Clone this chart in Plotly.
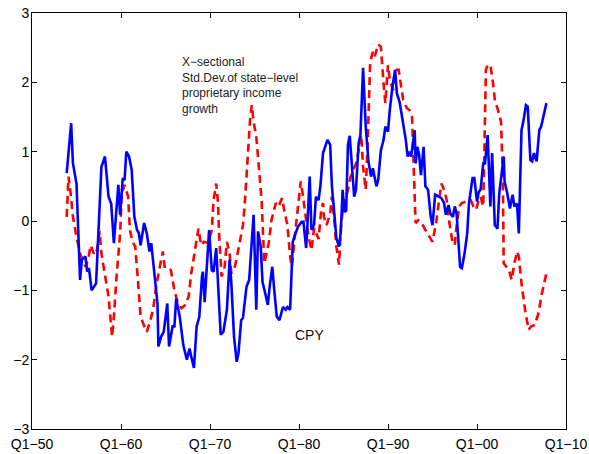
import plotly.graph_objects as go

# CPY (blue solid)
cpy_year = [1953.9, 1954.4, 1954.6, 1955.0, 1955.4, 1955.6, 1956.0, 1956.2, 1956.4, 1956.7,
            1957.2, 1957.4, 1957.8, 1958.2, 1958.6, 1958.9, 1959.2, 1959.7, 1959.9, 1960.2,
            1960.4, 1960.6, 1960.9, 1961.2, 1961.5, 1961.8, 1962.0, 1962.2, 1962.6, 1962.9,
            1963.2, 1963.4, 1964.1, 1964.2, 1964.5, 1964.8, 1965.2, 1965.4, 1965.8, 1966.0,
            1966.2, 1966.6, 1967.0, 1967.4, 1967.7, 1967.9, 1968.2, 1968.5, 1968.8, 1969.1,
            1969.2, 1969.4, 1969.9, 1970.2, 1970.4, 1970.7, 1971.2, 1971.5, 1971.8, 1971.9,
            1972.2, 1972.4, 1972.7, 1973.0, 1973.2, 1973.5, 1973.7, 1974.1, 1974.4, 1974.7,
            1974.9, 1975.2, 1975.4, 1975.7, 1975.9, 1976.2, 1976.5, 1976.7, 1977.0, 1977.2,
            1977.5, 1977.8, 1978.1, 1978.2, 1978.5, 1978.7, 1979.0, 1979.3, 1979.6, 1979.9,
            1980.3, 1980.5, 1980.8, 1980.9, 1981.2, 1981.4, 1981.7, 1981.9, 1982.2, 1982.4,
            1982.7, 1982.9, 1983.2, 1983.5, 1983.7, 1984.0, 1984.2, 1984.5, 1984.7, 1984.9,
            1985.1, 1985.3, 1985.5, 1985.7, 1986.0, 1986.2, 1986.4, 1986.7, 1986.9, 1987.2,
            1987.5, 1987.8, 1988.1, 1988.3, 1988.7, 1988.9, 1989.2, 1989.5, 1989.7, 1990.0,
            1990.2, 1990.5, 1990.8, 1991.0, 1991.3, 1991.7, 1992.0, 1992.2, 1992.4, 1992.6,
            1993.0, 1993.1, 1993.3, 1993.5, 1993.7, 1994.0, 1994.2, 1994.5, 1994.8, 1995.0,
            1995.3, 1995.7, 1996.0, 1996.3, 1996.5, 1996.8, 1997.0, 1997.3, 1997.5, 1997.7,
            1997.9, 1998.1, 1998.3, 1998.6, 1998.9, 1999.1, 1999.5, 1999.7, 2000.0, 2000.2,
            2000.4, 2000.7, 2000.9, 2001.2, 2001.5, 2001.7, 2002.0, 2002.3, 2002.5, 2002.8,
            2003.0, 2003.1, 2003.4, 2003.7, 2004.0, 2004.2, 2004.5, 2004.7, 2005.0, 2005.2,
            2005.5, 2005.7, 2006.0, 2006.2, 2006.4, 2006.7, 2007.0, 2007.2, 2007.5, 2007.8]
cpy_val = [0.69, 1.41, 0.83, 0.54, -0.85, -0.56, -0.51, -0.73, -0.68, -1.0,
           -0.9, -0.37, 0.78, 0.93, 0.35, 0.25, -0.32, 0.52, 0.09, 0.62,
           0.59, 1.0, 0.93, 0.74, 0.06, -0.13, -0.17, -0.35, -0.03, -0.18,
           -0.44, -0.32, -1.19, -1.81, -1.67, -1.6, -1.19, -1.81, -1.52, -1.52,
           -1.12, -1.38, -1.79, -2.0, -1.84, -1.96, -2.12, -1.52, -1.38, -0.8,
           -0.73, -1.17, -0.13, -0.71, -0.73, -0.39, -1.64, -1.6, -1.31, -1.28,
           -0.56, -0.9, -1.67, -2.03, -1.91, -1.43, -1.4, -0.95, -0.85, -0.23,
           0.09, -1.28, -0.15, -0.37, -0.88, -1.04, -1.21, -0.95, -0.66, -0.97,
           -1.38, -1.43, -1.28, -1.24, -1.28, -1.24, -1.28, -0.3, -0.18, -0.08,
           -0.01, -0.01, -0.39, -0.18, 0.64, -0.13, -0.05, 0.35, 0.3, 0.5,
           0.98, 1.05, 1.17, 1.1, 0.5, 0.06, -0.25, -0.37, -0.15, 0.45,
           0.13, 0.15, 1.1, 1.23, 0.69, 0.35, 0.45, 1.12, 1.24, 2.21,
           1.36, 0.86, 0.64, 0.76, 0.5, 0.59, 1.02, 1.17, 1.36, 1.29,
           1.6, 1.94, 2.18, 1.84, 1.72, 1.41, 1.17, 0.93, 1.0, 0.93,
           1.31, 0.83, 1.07, 0.95, 0.66, 1.07, 0.5, 0.45, 0.06, -0.06,
           0.38, 0.35, 0.33, 0.26, 0.09, 0.23, 0.11, 0.06, 0.21, 0.12,
           -0.27, -0.66, -0.68, -0.47, -0.18, 0.26, 0.62, 0.62, 0.28, 0.42,
           0.45, 0.83, 0.83, 1.24, 0.21, 0.98, -0.06, -0.11, 0.4, 0.69,
           0.93, 0.57, 0.4, 0.18, 0.38, 0.21, 0.25, -0.18, 1.31, 1.43,
           1.67, 1.65, 0.88, 0.86, 0.98, 0.86, 1.31, 1.36, 1.53, 1.7]

# X-sectional std. dev. (red dashed)
xsd_year = [1953.9, 1954.1, 1954.3, 1954.6, 1955.0, 1955.4, 1956.0, 1956.3, 1956.6, 1957.0,
            1957.3, 1957.6, 1957.8, 1958.2, 1958.6, 1959.0, 1959.2, 1959.5, 1959.9, 1960.1,
            1960.4, 1960.8, 1961.0, 1961.3, 1961.6, 1961.9, 1962.2, 1962.5, 1962.9, 1963.3,
            1963.6, 1964.0, 1964.4, 1964.7, 1964.9, 1965.3, 1965.6, 1966.0, 1966.4, 1966.8,
            1967.2, 1967.6, 1967.9, 1968.3, 1968.7, 1969.0, 1969.3, 1969.8, 1970.2, 1970.4,
            1970.7, 1970.9, 1971.0, 1971.3, 1971.6, 1971.9, 1972.2, 1972.4, 1972.7, 1973.0,
            1973.4, 1973.7, 1973.9, 1974.2, 1974.5, 1974.7, 1974.9, 1975.2, 1975.5, 1975.8,
            1976.1, 1976.3, 1976.6, 1976.9, 1977.2, 1977.4, 1977.7, 1978.1, 1978.3, 1978.7,
            1979.0, 1979.2, 1979.6, 1979.9, 1980.2, 1980.4, 1980.7, 1980.9, 1981.2, 1981.4,
            1981.7, 1982.2, 1982.5, 1982.7, 1982.8, 1983.1, 1983.5, 1983.7, 1984.0, 1984.2,
            1984.5, 1984.7, 1985.0, 1985.2, 1985.5, 1985.8, 1986.1, 1986.4, 1986.7, 1987.0,
            1987.2, 1987.5, 1987.7, 1987.9, 1988.0, 1988.3, 1988.5, 1988.9, 1989.2, 1989.5,
            1989.7, 1990.0, 1990.2, 1990.6, 1991.0, 1991.2, 1991.5, 1991.7, 1992.1, 1992.4,
            1992.7, 1992.8, 1993.0, 1993.1, 1993.4, 1993.8, 1994.2, 1994.5, 1995.0, 1995.4,
            1995.8, 1996.0, 1996.3, 1996.6, 1996.9, 1997.2, 1997.5, 1997.7, 1998.0, 1998.3,
            1998.7, 1999.0, 1999.3, 1999.6, 1999.9, 2000.1, 2000.4, 2000.7, 2000.9, 2001.0,
            2001.2, 2001.5, 2001.8, 2002.0, 2002.4, 2002.7, 2002.9, 2003.0, 2003.3, 2003.6,
            2003.9, 2004.2, 2004.5, 2004.7, 2005.0, 2005.4, 2005.8, 2006.1, 2006.5, 2006.9,
            2007.3, 2007.8]
xsd_val = [0.06, 0.64, 0.45, 0.06, -0.23, -0.47, -0.66, -0.56, -0.35, -0.49,
           -0.42, -0.15, -0.47, -0.8, -1.09, -1.67, -1.38, -0.8, -0.18, 0.4,
           0.52, 0.35, -0.13, -0.3, -0.37, -0.85, -1.38, -1.48, -1.6, -1.43,
           -1.28, -0.9, -0.63, -0.44, -0.66, -0.66, -0.71, -1.0, -1.19, -1.26,
           -1.21, -1.09, -0.75, -0.42, -0.11, -0.35, -0.3, -0.32, -0.13, 0.3,
           0.54, 0.26, -0.13, -0.8, -0.71, -0.3, -0.47, -0.75, -0.71, -0.54,
           -0.23, -0.06, 0.23, 0.83, 1.46, 1.67, 1.43, 1.22, 0.81, 0.3,
           -0.61, -0.51, -0.32, 0.01, 0.16, 0.26, 0.21, 0.33, 0.18, -0.06,
           -0.51, -0.66, -0.13, 0.26, 0.57, 0.4, 0.1, -0.08, -0.3, -0.42,
           -0.1, -0.26, 0.16, 0.26, 0.06, -0.06, 0.11, 0.35, -0.03, -0.37,
           -0.63, -0.1, 0.26, 0.3, 0.45, 0.64, 0.74, 0.83, 1.02, 1.24,
           0.78, 0.45, 1.07, 1.79, 2.3, 2.44, 2.37, 2.55, 2.51, 1.99,
           1.7, 2.25, 2.03, 1.89, 2.18, 2.18, 1.89, 1.75, 1.63, 1.6,
           1.5, 1.17, 0.4, -0.03, 0.01, -0.03, -0.13, -0.2, -0.3, -0.03,
           0.4, 0.54, 0.45, 0.3, -0.03, -0.27, -0.35, -0.08, 0.21, 0.26,
           0.28, 0.3, 0.3, 0.21, 0.16, 0.26, 0.35, 0.21, 1.5, 2.18,
           2.25, 2.25, 1.99, 1.75, 1.58, 1.43, 0.64, -0.61, -0.66, -0.71,
           -0.85, -0.61, -0.44, -0.51, -0.9, -1.28, -1.57, -1.52, -1.5, -1.33,
           -1.04, -0.75]

x_ticks = [1950, 1960, 1970, 1980, 1990, 2000, 2010]
x_ticklabels = ["Q1\u221250", "Q1\u221260", "Q1\u221270", "Q1\u221280", "Q1\u221290", "Q1\u221200", "Q1\u221210"]
y_ticks = [-3, -2, -1, 0, 1, 2, 3]
y_ticklabels = ["\u22123", "\u22122", "\u22121", "0", "1", "2", "3"]

font_family = "Liberation Sans, Arial, Helvetica, sans-serif"

fig = go.Figure()
fig.add_trace(go.Scatter(x=xsd_year, y=xsd_val, mode="lines",
                         line=dict(color="#ff0000", width=2.6, dash="8px,5px"),
                         showlegend=False, hoverinfo="skip"))
fig.add_trace(go.Scatter(x=cpy_year, y=cpy_val, mode="lines",
                         line=dict(color="#0000ff", width=2.6),
                         showlegend=False, hoverinfo="skip"))

fig.add_annotation(x=1966.6, y=2.42, xref="x", yref="y",
                   text="X\u2212sectional<br>Std.Dev.of state\u2212level<br>proprietary income<br>growth",
                   showarrow=False, xanchor="left", yanchor="top", align="left",
                   font=dict(family=font_family, size=12, color="#222222"))
fig.add_annotation(x=1979.3, y=-1.65, xref="x", yref="y", text="CPY",
                   showarrow=False, xanchor="left", yanchor="middle",
                   font=dict(family=font_family, size=14, color="#111111"))

axis_common = dict(showline=True, linecolor="black", linewidth=1, mirror="ticks",
                   ticks="inside", ticklen=5, tickcolor="black", showgrid=False,
                   zeroline=False, automargin=False,
                   tickfont=dict(family=font_family, size=14, color="black"))

fig.update_layout(
    width=589, height=454,
    margin=dict(l=32, r=23, t=13, b=25, autoexpand=False),
    paper_bgcolor="white", plot_bgcolor="white",
    xaxis=dict(range=[1950, 2010], tickvals=x_ticks, ticktext=x_ticklabels,
               ticklabelstandoff=2, **axis_common),
    yaxis=dict(range=[-3, 3], tickvals=y_ticks, ticktext=y_ticklabels,
               ticklabelstandoff=-1, **axis_common),
)

fig.write_html("out.html")
